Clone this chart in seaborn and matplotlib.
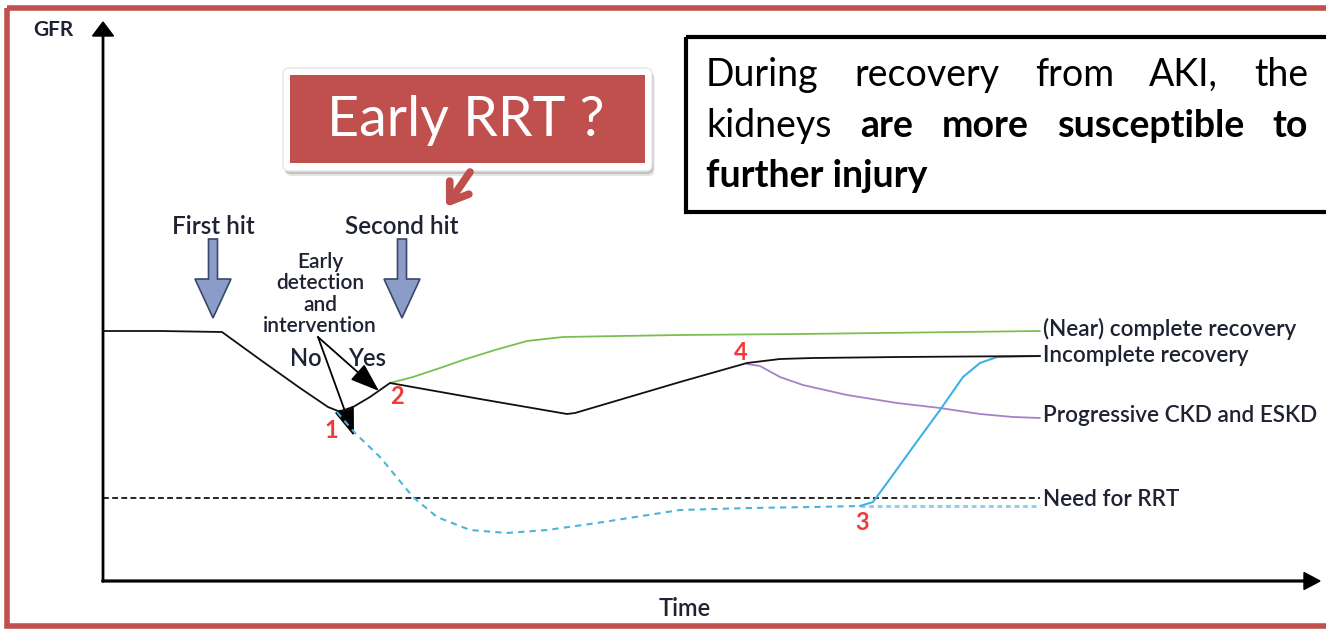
"""
GFR trajectories after AKI: first hit, second hit, recovery outcomes.
Redrawn as a seaborn / matplotlib schematic on a pixel-sized canvas.
"""
import matplotlib

matplotlib.use("Agg")
import matplotlib.pyplot as plt
from matplotlib.patches import FancyArrowPatch, FancyBboxPatch, Rectangle
import seaborn as sns

W, H = 1326, 629

# ---------------------------------------------------------------------------
# Curves (x = time, y = GFR, canvas px, y grows down)
# ---------------------------------------------------------------------------
main_x = [103, 160, 222, 262, 300, 328, 338, 348, 370, 390, 480, 567, 575, 680, 747, 780, 813, 900, 1040]
main_y = [331, 331, 332, 361, 388, 407, 411, 410, 397, 383, 399, 414, 413, 382, 363, 359, 358, 357, 356]

green_x = [390, 413, 440, 463, 495, 527, 563, 620, 680, 800, 1040]
green_y = [383, 377, 368, 360, 350, 341, 337, 336, 335, 334, 331]

purple_x = [747, 760, 780, 803, 847, 897, 940, 980, 1013, 1040]
purple_y = [364, 366, 377, 385, 395, 403, 408, 414, 417, 418]

nopath_x = [337, 355, 380, 413, 437, 470, 507, 547, 597, 680, 750, 813, 860]
nopath_y = [412, 433, 457, 497, 517, 530, 533, 530, 523, 510, 508, 507, 506]

dialysis_x = [860, 1040]
dialysis_y = [506, 506]

rrt_rescue_x = [860, 873, 887, 913, 940, 963, 980, 997, 1040]
rrt_rescue_y = [506, 502, 483, 447, 410, 377, 363, 357, 356]

rrt_line_x = [103, 1040]
rrt_line_y = [498, 498]

outcome_labels = ["(Near) complete recovery", "Incomplete recovery",
                  "Progressive CKD and ESKD", "Need for RRT"]
outcome_y = [329, 356, 416, 500]

event_labels = ["1", "2", "3", "4"]
event_x = [331, 397, 862, 741]
event_y = [430, 396, 522, 353]

hit_labels = ["First hit", "Second hit"]
hit_x = [213, 402]

box_lines = [
    [("During", "normal"), ("recovery", "normal"), ("from", "normal"), ("AKI,", "normal"), ("the", "normal")],
    [("kidneys", "normal"), ("are", "bold"), ("more", "bold"), ("susceptible", "bold"), ("to", "bold")],
    [("further injury", "bold")],
]

RED = "#c0504d"
NUM_RED = "#f0393a"
INK = "#1e2233"

sns.set_theme(style="white")
plt.rcParams["font.family"] = ["Lato", "DejaVu Sans"]

fig = plt.figure(figsize=(W / 100, H / 100), dpi=100)
ax = fig.add_axes([0, 0, 1, 1])
ax.set_xlim(0, W)
ax.set_ylim(H, 0)
ax.axis("off")

# outer red frame (runs off the right edge)
ax.add_patch(Rectangle((7, 8), W + 20, 618, fill=False, ec=RED, lw=4))

# axes with arrow heads
ax.arrow(103, 582, 0, -560, width=1.4, head_width=21, head_length=14,
         length_includes_head=True, fc="black", ec="black")
ax.arrow(102, 581, 1218, 0, width=1.8, head_width=17, head_length=16,
         length_includes_head=True, fc="black", ec="black")
ax.text(53, 30, "GFR", fontsize=15, fontweight="bold", color=INK, ha="center", va="center")
ax.text(685, 609, "Time", fontsize=17, fontweight="semibold", color=INK, ha="center", va="center")

# curves
sns.lineplot(x=rrt_line_x, y=rrt_line_y, sort=False, estimator=None, ax=ax,
             color="black", lw=1.2, linestyle=(0, (3.5, 2)))
sns.lineplot(x=green_x, y=green_y, sort=False, estimator=None, ax=ax, color="#7cbf4e", lw=1.3)
sns.lineplot(x=purple_x, y=purple_y, sort=False, estimator=None, ax=ax, color="#a682c4", lw=1.3)
sns.lineplot(x=nopath_x, y=nopath_y, sort=False, estimator=None, ax=ax,
             color="#4bb3dc", lw=1.5, linestyle=(0, (3, 2.5)))
sns.lineplot(x=dialysis_x, y=dialysis_y, sort=False, estimator=None, ax=ax,
             color="#8fd0ea", lw=2.2, linestyle=(0, (1.6, 1.2)))
sns.lineplot(x=rrt_rescue_x, y=rrt_rescue_y, sort=False, estimator=None, ax=ax, color="#3fb1e6", lw=1.5)
sns.lineplot(x=main_x, y=main_y, sort=False, estimator=None, ax=ax, color="#111111", lw=1.3)

for lab, y in zip(outcome_labels, outcome_y):
    ax.text(1043, y, lab, fontsize=16.2, fontweight="semibold", color=INK, ha="left", va="center")

for lab, x, y in zip(event_labels, event_x, event_y):
    ax.text(x, y, lab, fontsize=17, fontweight="bold", color=NUM_RED, ha="center", va="center")

# first / second hit block arrows
for lab, x in zip(hit_labels, hit_x):
    ax.text(x, 226, lab, fontsize=17.5, fontweight="semibold", color=INK, ha="center", va="center")
    ax.arrow(x, 239, 0, 79, width=9, head_width=36, head_length=39,
             length_includes_head=True, fc="#8b9cc9", ec="#3a4868", lw=1.2)

# early detection and intervention
ax.text(320, 294, "Early\ndetection\nand\nintervention", fontsize=15, fontweight="semibold",
        color=INK, ha="center", va="center", linespacing=1.1)
for tip in [(354, 436), (379, 391)]:
    ax.add_patch(FancyArrowPatch((318, 337), tip, arrowstyle="-|>,head_length=0.9,head_width=0.32",
                                 mutation_scale=20, color="black", lw=1.3, shrinkA=0, shrinkB=0))
ax.text(306, 359, "No", fontsize=17, fontweight="semibold", color=INK, ha="center", va="center")
ax.text(367, 359, "Yes", fontsize=17, fontweight="semibold", color=INK, ha="center", va="center")

# "Early RRT ?" call-out
for off, alpha in [(5, 0.10), (3, 0.15)]:
    ax.add_patch(FancyBboxPatch((283 + off / 2, 68 + off), 369, 103, boxstyle="round,pad=0,rounding_size=6",
                                fc="black", ec="none", alpha=alpha))
ax.add_patch(FancyBboxPatch((283, 68), 369, 103, boxstyle="round,pad=0,rounding_size=6",
                            fc="white", ec="#e6e6e6", lw=1))
ax.add_patch(Rectangle((290, 75), 355, 88, fc=RED, ec="none"))
ax.text(466, 121, "Early RRT ?", fontsize=40, color="white", ha="center", va="center")
ax.add_patch(FancyArrowPatch((470, 172), (446, 207), arrowstyle="->,head_length=0.55,head_width=0.38",
                             mutation_scale=22, color=RED, lw=5.5, shrinkA=0, shrinkB=0))

# text box with justified lines
ax.add_patch(Rectangle((686, 37), W, 175, fill=False, ec="black", lw=3))
renderer = fig.canvas.get_renderer()
x0, x1 = 706, 1308
for words, y in zip(box_lines, [75, 126, 176]):
    arts = [ax.text(x0, y, w, fontsize=27, fontweight=wt, color="black", ha="left", va="center")
            for w, wt in words]
    if len(arts) == 1:
        continue
    widths = [a.get_window_extent(renderer).width for a in arts]
    gap = (x1 - x0 - sum(widths)) / (len(arts) - 1)
    x = x0
    for a, w in zip(arts, widths):
        a.set_x(x)
        x += w + gap

fig.savefig("out.png", dpi=100)
